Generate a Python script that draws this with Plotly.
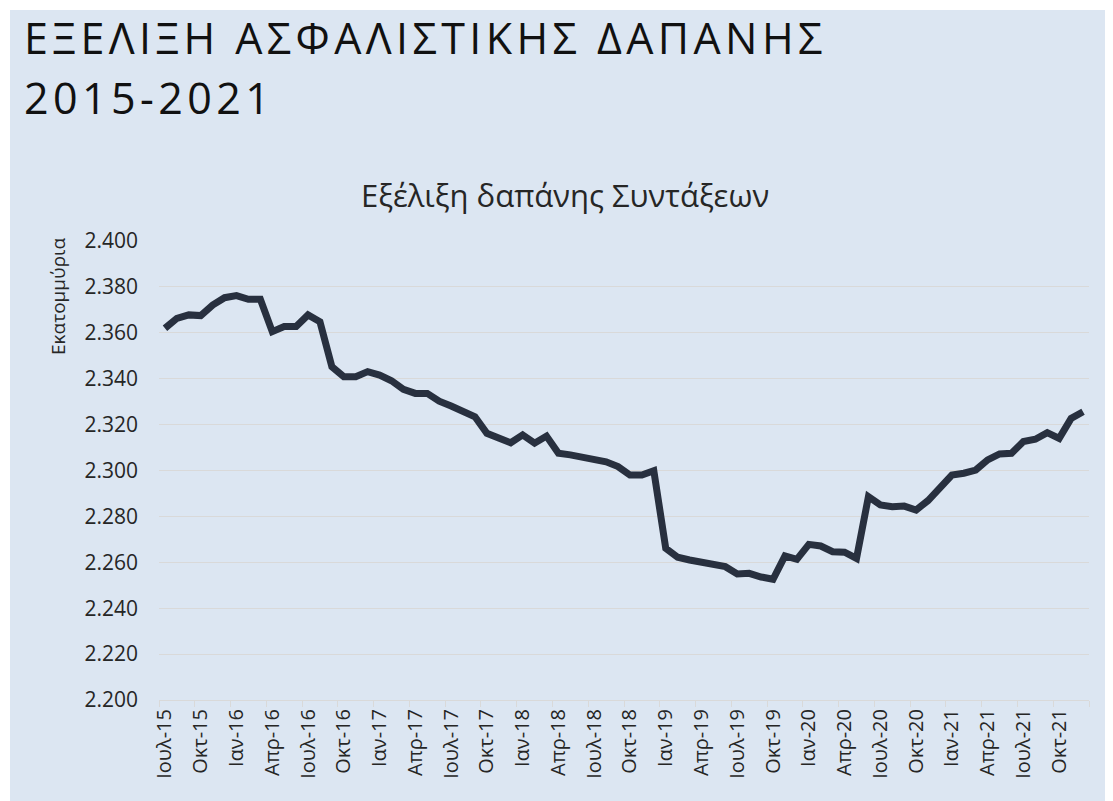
import plotly.graph_objects as go

# ---- data ----
month_names = ["Ιαν", "Φεβ", "Μαρ", "Απρ", "Μαϊ", "Ιουν", "Ιουλ", "Αυγ", "Σεπ", "Οκτ", "Νοε", "Δεκ"]
years = [15, 16, 17, 18, 19, 20, 21]
start_month_index = 6  # Ιουλ-15
n_points = 78          # Ιουλ-15 .. Δεκ-21

categories = []
for k in range(n_points):
    m = (start_month_index + k) % 12
    y = years[(start_month_index + k) // 12]
    categories.append(f"{month_names[m]}-{y}")

pension_spending = [
    2362.0, 2366.3, 2367.8, 2367.5, 2372.1, 2375.3, 2376.2, 2374.6, 2374.6, 2360.5,
    2362.7, 2362.7, 2367.8, 2364.8, 2345.2, 2340.9, 2340.9, 2343.1, 2341.6, 2339.1,
    2335.4, 2333.6, 2333.6, 2330.2, 2328.1, 2325.6, 2323.4, 2316.2, 2314.5, 2312.1,
    2315.5, 2311.9, 2315.0, 2307.5, 2306.8, 2305.8, 2304.9, 2303.8, 2301.7, 2298.0,
    2298.0, 2299.9, 2266.1, 2262.2, 2261.0, 2260.0, 2259.6, 2258.1, 2254.9, 2255.2,
    2253.6, 2252.6, 2262.8, 2261.3, 2267.8, 2267.1, 2264.6, 2264.4, 2261.7, 2288.6,
    2285.0, 2284.2, 2284.5, 2282.8, 2286.9, 2292.2, 2298.0, 2298.8, 2300.2, 2304.6,
    2307.2, 2307.5, 2312.6, 2313.6, 2316.5, 2314.0, 2322.7, 2325.6,
]

title_line1 = "ΕΞΕΛΙΞΗ ΑΣΦΑΛΙΣΤΙΚΗΣ ΔΑΠΑΝΗΣ"
title_line2 = "2015-2021"
chart_title = "Εξέλιξη δαπάνης Συντάξεων"
y_title = "Εκατομμύρια"

# ---- layout geometry (figure pixels; page has an 8px body margin) ----
OFF = 8
W, H = 1113, 801
L, R, T, B = 151, 32, 233, 109
PW, PH = W - L - R, H - T - B

def px(xp):  # page x -> paper
    return (xp - OFF - L) / PW

def py(yp):  # page y -> paper
    return (H - B - (yp - OFF)) / PH

BG = "#DCE6F2"
FONT = "Open Sans"
TXT = "#262626"
GRID = "#D9D9D9"

fig = go.Figure()
fig.add_trace(go.Scatter(
    x=categories, y=pension_spending, mode="lines",
    line=dict(color="#28303F", width=7, shape="linear"),
    hoverinfo="x+y", showlegend=False,
))

fig.update_layout(
    width=W, height=H,
    margin=dict(l=L, r=R, t=T, b=B, pad=0),
    paper_bgcolor="white",
    plot_bgcolor="rgba(0,0,0,0)",
    separators=",.",
    font=dict(family=FONT, color=TXT),
    showlegend=False,
    shapes=[dict(type="rect", xref="paper", yref="paper",
                 x0=px(10), x1=px(1113 + 20), y0=py(801 + 20), y1=py(10),
                 fillcolor=BG, line=dict(width=0), layer="below")],
)

fig.update_xaxes(
    type="category",
    tickmode="linear", tick0=0, dtick=3,
    tickson="boundaries",
    ticks="outside", ticklen=6, tickcolor=GRID, tickwidth=1,
    showline=True, linecolor=GRID, linewidth=1,
    showgrid=False, zeroline=False,
    tickangle=-90,
    tickfont=dict(family=FONT, size=20, color=TXT),
    range=[-0.5, n_points - 0.5],
)
fig.update_yaxes(
    range=[2200, 2400], dtick=20, tick0=2200,
    tickformat=",.0f",
    showgrid=True, gridcolor=GRID, gridwidth=1,
    showline=False, zeroline=False, ticks="",
    tickfont=dict(family=FONT, size=21, color=TXT),
    ticklabelstandoff=20,
)

annotations = [
    dict(text=f'<span style="letter-spacing:4.4px">{title_line1}</span>',
         x=px(22), y=py(38), xanchor="left", yanchor="middle",
         font=dict(family=FONT, size=43, color="#111111", weight=400)),
    dict(text=f'<span style="letter-spacing:4.4px">{title_line2}</span>',
         x=px(22), y=py(97), xanchor="left", yanchor="middle",
         font=dict(family=FONT, size=43, color="#111111", weight=400)),
    dict(text=chart_title, x=px(565), y=py(195), xanchor="center", yanchor="middle",
         font=dict(family=FONT, size=31, color=TXT)),
    dict(text=y_title, x=px(58), y=py(296), xanchor="center", yanchor="middle",
         textangle=-90, font=dict(family=FONT, size=19, color=TXT)),
]
for a in annotations:
    a.update(xref="paper", yref="paper", showarrow=False)
fig.update_layout(annotations=annotations)

fig.write_html("out.html")
